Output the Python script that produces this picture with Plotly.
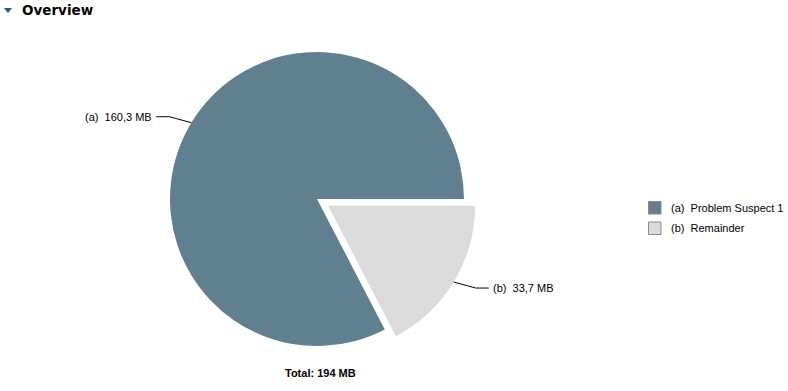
import math
import plotly.graph_objects as go

# ---- data ----
slice_keys = ["(b)", "(a)"]
slice_names = ["Remainder", "Problem Suspect 1"]
slice_values = [33.7, 160.3]
slice_colors = ["#dbdbdb", "#60808f"]
unit = "MB"
title_text = "Overview"

W, H = 788, 391
CX, CY, R = 317.0, 199.0, 147.0
PULL_PX = 13.0
pull_frac = PULL_PX / R

def px(x):
    return x / W

def py(y):
    return 1 - y / H

def fmt(v):
    return f"{v:.1f}".replace(".", ",")

total = sum(slice_values)
half = R * (1 + pull_frac)
FONT = "Liberation Sans, Arial"

fig = go.Figure()
fig.add_trace(go.Pie(
    labels=[f"{k}  {n}" for k, n in zip(slice_keys, slice_names)],
    values=slice_values,
    marker=dict(colors=slice_colors, line=dict(width=0)),
    sort=False,
    direction="clockwise",
    rotation=90,
    pull=[pull_frac, 0],
    textinfo="none",
    hoverinfo="label+value",
    domain=dict(x=[px(CX - half), px(CX + half)], y=[py(CY + half), py(CY - half)]),
    showlegend=False,
))

shapes = []
annotations = []
start = 0.0
for i, (k, v) in enumerate(zip(slice_keys, slice_values)):
    span = 360.0 * v / total
    mid = math.radians(start + span / 2)
    start += span
    off = PULL_PX if i == 0 else 0.0
    ox = CX + off * math.cos(mid)
    oy = CY + off * math.sin(mid)
    ex = ox + R * math.cos(mid)
    ey = oy + R * math.sin(mid)
    sx = 1 if math.cos(mid) >= 0 else -1
    sy = 1 if math.sin(mid) >= 0 else -1
    bx, by = ex + sx * 22, ey + sy * 6
    tx = bx + sx * 13
    shapes.append(dict(type="path", xref="paper", yref="paper",
                       path=f"M {px(ex)},{py(ey)} L {px(bx)},{py(by)} L {px(tx)},{py(by)}",
                       line=dict(color="#000000", width=1)))
    annotations.append(dict(x=px(tx + sx * 2), y=py(by), xref="paper", yref="paper",
                            text=f"{k}  {fmt(v)} {unit}", showarrow=False,
                            xanchor="left" if sx > 0 else "right", yanchor="middle",
                            font=dict(family=FONT, size=11, color="#000")))

# custom legend (a first, then b)
LX, LY0, LDY, LS = 648.5, 201.5, 20.5, 12.5
for j, idx in enumerate(reversed(range(len(slice_keys)))):
    y0 = LY0 + j * LDY
    shapes.append(dict(type="rect", xref="paper", yref="paper",
                       x0=px(LX), x1=px(LX + LS), y0=py(y0 + LS), y1=py(y0),
                       fillcolor=slice_colors[idx], line=dict(color="#8a8a8a", width=1)))
    annotations.append(dict(x=px(669), y=py(y0 + LS / 2), xref="paper", yref="paper",
                            text=f"{slice_keys[idx]}  {slice_names[idx]}", showarrow=False,
                            xanchor="left", yanchor="middle",
                            font=dict(family=FONT, size=11, color="#000")))

annotations.append(dict(x=px(320.5), y=py(373), xref="paper", yref="paper",
                        text=f"<b>Total: {total:.0f} {unit}</b>", showarrow=False,
                        xanchor="center", yanchor="middle",
                        font=dict(family=FONT, size=11, color="#000")))
annotations.append(dict(x=px(20), y=py(10), xref="paper", yref="paper",
                        text=f"<b>{title_text}</b>", showarrow=False,
                        xanchor="left", yanchor="middle",
                        font=dict(family="DejaVu Sans, Verdana", size=13.5, color="#000")))
shapes.append(dict(type="path", xref="paper", yref="paper",
                   path=f"M {px(4)},{py(8)} L {px(12)},{py(8)} L {px(8)},{py(13)} Z",
                   fillcolor="#1c5d8c", line=dict(color="#1c5d8c", width=0)))

fig.update_layout(
    width=W, height=H,
    margin=dict(l=0, r=0, t=0, b=0),
    paper_bgcolor="white", plot_bgcolor="white",
    shapes=shapes, annotations=annotations,
    showlegend=False,
)
fig.write_html("out.html")
